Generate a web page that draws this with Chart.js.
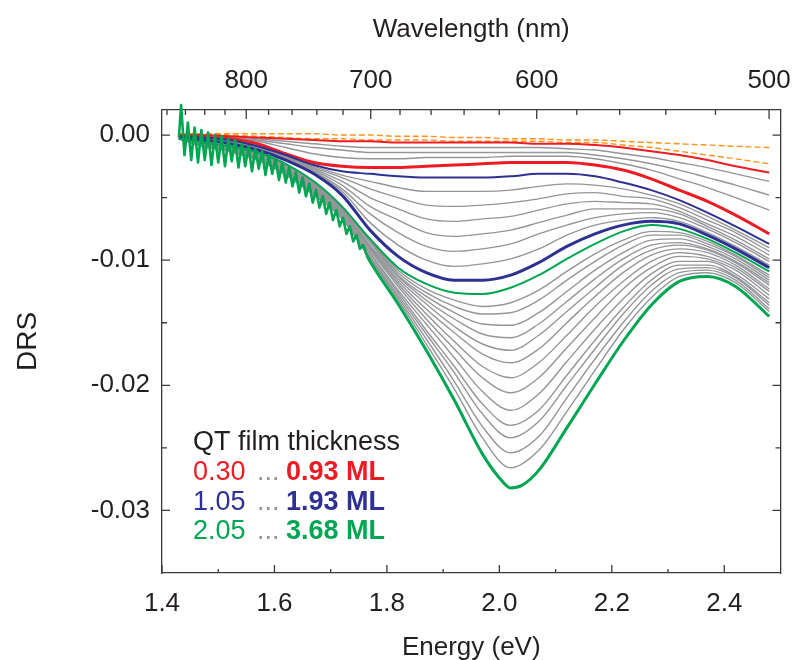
<!DOCTYPE html>
<html>
<head>
<meta charset="utf-8">
<script src="https://cdn.jsdelivr.net/npm/chart.js@4.4.0/dist/chart.umd.min.js"></script>
<style>
  html, body { margin: 0; padding: 0; background: #fff; }
  canvas { display: block; }
</style>
</head>
<body>
<canvas id="chart" width="805" height="660"></canvas>
<script>
// DRS values below are in units of 1e-4
const UNIT = 1e-4
const HC = 1239.84 // eV*nm, for the wavelength axis

// photon energy grid (eV) of the smooth spectra
const energy = [1.43, 1.47, 1.52, 1.57, 1.62, 1.67, 1.72, 1.77, 1.82, 1.87, 1.92, 1.97, 2.02, 2.07, 2.12, 2.17, 2.22, 2.27, 2.32, 2.37, 2.42, 2.48]

// reference spectra (orange, dashed)
const orangeTop = [1, 1, 1, 1, 1, 1, 0, 0, -1, -1, -2, -2, -3, -3, -4, -4, -5, -6, -7, -8, -9, -10]
const orangeLow = [1, 1, 0, -1, -2, -3, -3, -4, -4, -4, -5, -5, -5, -5, -6, -6, -8, -10, -13, -16, -19, -23]

// 0.30 ... 0.93 ML
const redThin = [0, 0, -1, -2, -3, -4, -5, -5, -6, -6, -6, -6, -6, -7, -7, -8, -10, -13, -16, -20, -25, -30]
const redGrays = [
  [0, -1, -1, -3, -5, -7, -9, -10, -10, -10, -10, -10, -10, -10, -11, -12, -15, -18, -22, -26, -31, -37],
  [0, -1, -2, -4, -7, -10, -12, -14, -14, -14, -14, -14, -14, -14, -14, -16, -19, -23, -28, -34, -40, -48],
  [0, -1, -2, -5, -10, -15, -18, -19, -19, -18, -18, -18, -17, -17, -17, -19, -23, -28, -35, -42, -50, -60],
]
const redThick = [-1, -2, -3, -7, -15, -22, -25, -26, -26, -25, -24, -23, -22, -22, -22, -24, -28, -35, -44, -53, -64, -79]

// 1.05 ... 1.93 ML
const blueThin = [-1, -2, -4, -9, -16, -24, -29, -31, -33, -34, -34, -34, -33, -31, -31, -33, -38, -44, -52, -62, -73, -87]
const blueGrays = [
  [-1, -2, -4, -9, -17, -25, -32, -37, -42, -45, -45, -45, -44, -41, -39, -40, -43, -48, -55, -65, -76, -90],
  [-1, -3, -5, -10, -17, -26, -34, -43, -50, -56, -57, -56, -54, -51, -47, -46, -49, -51, -58, -68, -78, -93],
  [-1, -3, -5, -10, -18, -27, -37, -50, -59, -67, -69, -67, -65, -60, -55, -53, -54, -55, -61, -71, -81, -96],
  [-2, -3, -6, -11, -18, -28, -40, -57, -68, -78, -81, -79, -76, -70, -64, -59, -59, -59, -63, -73, -84, -99],
  [-2, -4, -6, -11, -19, -29, -43, -63, -78, -89, -93, -91, -87, -79, -72, -66, -63, -62, -66, -75, -86, -101],
  [-2, -4, -7, -12, -19, -30, -45, -70, -88, -100, -105, -103, -99, -91, -80, -72, -68, -66, -69, -78, -89, -104],
]
const blueThick = [-2, -4, -7, -12, -20, -31, -48, -76, -97, -110, -116, -116, -112, -102, -89, -79, -72, -69, -71, -80, -91, -106]

// 2.05 ... 3.68 ML
const greenThin = [-3, -6, -9, -14, -23, -37, -57, -83, -106, -119, -126, -127, -122, -112, -99, -87, -77, -72, -75, -83, -94, -109]
const greenGrays = [
  [-3, -6, -9, -15, -24, -38, -58, -84, -108, -123, -132, -137, -134, -124, -109, -95, -84, -77, -78, -85, -96, -112],
  [-3, -6, -10, -15, -24, -39, -58, -85, -110, -126, -137, -143, -142, -132, -116, -101, -88, -80, -80, -87, -97, -114],
  [-3, -7, -10, -15, -25, -39, -59, -86, -112, -129, -142, -151, -152, -142, -125, -108, -94, -84, -83, -89, -99, -116],
  [-3, -7, -10, -16, -26, -40, -60, -88, -113, -132, -147, -159, -162, -151, -133, -115, -99, -88, -86, -91, -101, -118],
  [-3, -7, -11, -16, -26, -41, -60, -89, -115, -135, -153, -167, -172, -160, -141, -122, -104, -92, -88, -92, -102, -120],
  [-3, -7, -11, -17, -27, -42, -61, -90, -117, -139, -158, -175, -182, -171, -150, -129, -110, -96, -91, -94, -104, -123],
  [-3, -7, -11, -17, -28, -42, -62, -91, -119, -143, -165, -185, -194, -182, -160, -137, -117, -101, -94, -97, -106, -125],
  [-3, -8, -12, -18, -28, -43, -63, -92, -121, -147, -171, -194, -206, -194, -170, -146, -123, -106, -97, -99, -108, -128],
  [-3, -8, -12, -18, -29, -44, -64, -94, -124, -151, -178, -205, -220, -207, -181, -155, -131, -111, -101, -101, -111, -131],
  [-3, -8, -12, -19, -30, -45, -65, -95, -126, -156, -185, -215, -232, -220, -192, -164, -138, -116, -104, -104, -113, -134],
  [-3, -8, -13, -19, -31, -46, -65, -97, -128, -159, -190, -223, -242, -229, -200, -171, -143, -120, -107, -106, -114, -136],
  [-3, -8, -13, -20, -31, -47, -66, -98, -130, -163, -197, -233, -254, -241, -210, -179, -150, -125, -110, -108, -116, -139],
  [-3, -9, -13, -20, -32, -48, -67, -99, -132, -167, -203, -242, -266, -252, -221, -188, -156, -130, -113, -110, -118, -141],
]
// thickest film: noisy low-energy part, then the smooth part
const greenNoiseEnergy = [1.430, 1.434, 1.440, 1.446, 1.452, 1.458, 1.464, 1.470, 1.476, 1.482, 1.488, 1.494, 1.500, 1.506, 1.512, 1.518, 1.524, 1.530, 1.536, 1.542, 1.548, 1.554, 1.560, 1.566, 1.572, 1.578, 1.584, 1.590, 1.596, 1.602, 1.608, 1.614, 1.620, 1.626, 1.632, 1.638, 1.644, 1.650, 1.656, 1.662, 1.668, 1.674, 1.680, 1.686, 1.692, 1.698, 1.704, 1.710, 1.716, 1.722, 1.728, 1.734, 1.740, 1.746, 1.752, 1.758, 1.764]
const greenNoiseValues = [-2, 24, -16, 10, -20, 6, -22, 4, -20, 2, -24, 0, -22, -1, -25, -3, -21, -4, -26, -7, -25, -9, -29, -11, -27, -13, -32, -16, -31, -19, -36, -22, -38, -26, -41, -30, -46, -34, -49, -39, -54, -44, -58, -49, -63, -54, -68, -60, -73, -66, -79, -73, -85, -80, -91, -88, -96]
const greenThickEnergy = [1.77, 1.82, 1.87, 1.92, 1.97, 2.00, 2.02, 2.04, 2.07, 2.12, 2.17, 2.22, 2.27, 2.32, 2.37, 2.42, 2.48]
const greenThickValues = [-101, -135, -172, -212, -255, -274, -282, -280, -268, -234, -199, -165, -136, -117, -113, -121, -145]

// axis ticks
const energyMajor = [1.4, 1.6, 1.8, 2.0, 2.2, 2.4]
const energyMinor = [1.5, 1.7, 1.9, 2.1, 2.3]
const drsMajor = [0, -0.01, -0.02, -0.03]
const drsMinor = [-0.005, -0.015, -0.025]
const nmMajor = [800, 700, 600, 500]
const nmMinor = [880, 860, 840, 820, 780, 760, 740, 720, 680, 660, 640, 620, 580, 560, 540, 520]

const noteRows = [
  { from: "0.30", to: "0.93 ML", color: "#ed1c24" },
  { from: "1.05", to: "1.93 ML", color: "#2e3192" },
  { from: "2.05", to: "3.68 ML", color: "#00a651" },
]

const FONT = "'Liberation Sans', Arial, Helvetica, sans-serif"
const INK = "#231f20"
const AXIS = "#3a3a3a"
const GRAY = "#939598"
const RED = "#ed1c24", BLUE = "#2e3192", GREEN = "#00a651", ORANGE = "#f7941d"

const toPoints = (xs, vals) => xs.map((x, i) => ({ x, y: vals[i] * UNIT }))

function spectrum(vals, color, width, order, extra) {
  return Object.assign({
    data: toPoints(energy, vals),
    borderColor: color,
    borderWidth: width,
    order: order,
  }, extra || {})
}

const noisyPart = toPoints(greenNoiseEnergy, greenNoiseValues)
const datasets = []
// noisy start drawn with straight segments, so the spikes stay sharp
datasets.push({
  data: noisyPart,
  borderColor: GREEN, borderWidth: 2.6, order: 0, clip: false,
  cubicInterpolationMode: "default", tension: 0,
})
datasets.push({
  data: [noisyPart[noisyPart.length - 1]].concat(toPoints(greenThickEnergy, greenThickValues)),
  borderColor: GREEN, borderWidth: 3, order: 0,
})
datasets.push(spectrum(greenThin, GREEN, 2, 1))
datasets.push(spectrum(blueThick, BLUE, 3, 1))
datasets.push(spectrum(blueThin, BLUE, 2, 1))
datasets.push(spectrum(redThick, RED, 3, 1))
datasets.push(spectrum(redThin, RED, 2, 1))
datasets.push(spectrum(orangeTop, ORANGE, 1.4, 2, { borderDash: [6, 3] }))
datasets.push(spectrum(orangeLow, ORANGE, 1.4, 2, { borderDash: [6, 3] }))
redGrays.concat(blueGrays, greenGrays).forEach(v => datasets.push(spectrum(v, GRAY, 1.4, 3)))

// tick marks pointing into the plot, on all four sides
const innerTicks = {
  id: "innerTicks",
  afterDraw(chart) {
    const { ctx, chartArea: a, scales } = chart
    const x = scales.x, y = scales.y
    ctx.save()
    ctx.strokeStyle = AXIS
    ctx.lineWidth = 1.3
    ctx.beginPath()
    const vTick = (px, len) => {
      ctx.moveTo(px, a.bottom); ctx.lineTo(px, a.bottom - len)
    }
    energyMajor.forEach(v => vTick(x.getPixelForValue(v), 8))
    energyMinor.forEach(v => vTick(x.getPixelForValue(v), 4))
    const topTick = (px, len) => { ctx.moveTo(px, a.top); ctx.lineTo(px, a.top + len) }
    nmMajor.forEach(nm => topTick(x.getPixelForValue(HC / nm), 9))
    nmMinor.forEach(nm => topTick(x.getPixelForValue(HC / nm), 5))
    const hTick = (py, len) => {
      ctx.moveTo(a.left, py); ctx.lineTo(a.left + len, py)
      ctx.moveTo(a.right, py); ctx.lineTo(a.right - len, py)
    }
    drsMajor.forEach(v => hTick(y.getPixelForValue(v), 8))
    drsMinor.forEach(v => hTick(y.getPixelForValue(v), 5))
    ctx.stroke()
    ctx.restore()
  }
}

const thicknessNote = {
  id: "thicknessNote",
  afterDraw(chart) {
    const { ctx, scales: { x, y } } = chart
    const left = x.getPixelForValue(1.455)
    const top = y.getPixelForValue(-0.0246)
    ctx.save()
    ctx.textBaseline = "middle"
    ctx.font = "27px " + FONT
    ctx.fillStyle = INK
    ctx.fillText("QT film thickness", left, top)
    noteRows.forEach((row, i) => {
      const yy = top + (i + 1) * 29.7
      ctx.font = "27px " + FONT
      ctx.fillStyle = row.color
      ctx.fillText(row.from, left, yy)
      ctx.fillStyle = GRAY
      ctx.fillText("...", left + 64, yy)
      ctx.font = "bold 27px " + FONT
      ctx.fillStyle = row.color
      ctx.fillText(row.to, left + 93, yy)
    })
    ctx.restore()
  }
}

const border = { display: true, color: AXIS, width: 1.3 }
const noGrid = { display: false, drawTicks: false }
const tickFont = { family: FONT, size: 26 }

new Chart(document.getElementById("chart"), {
  type: "line",
  data: { datasets },
  options: {
    responsive: false,
    animation: false,
    devicePixelRatio: 1,
    layout: { padding: 0 },
    elements: {
      point: { radius: 0 },
      line: { cubicInterpolationMode: "monotone", fill: false, borderJoinStyle: "round" },
    },
    plugins: { legend: { display: false }, tooltip: { enabled: false } },
    scales: {
      x: {
        type: "linear", position: "bottom", min: 1.4, max: 2.5,
        grid: noGrid, border,
        afterBuildTicks: s => { s.ticks = energyMajor.map(v => ({ value: v })) },
        afterFit: s => { s.height = 87 },
        ticks: { font: tickFont, color: INK, padding: 15, maxRotation: 0, autoSkip: false, callback: v => v.toFixed(1) },
        title: { display: true, text: "Energy (eV)", font: { family: FONT, size: 26 }, color: INK, padding: { top: 0, bottom: -3 } },
      },
      x2: {
        type: "linear", position: "top", min: 1.4, max: 2.5,
        grid: noGrid, border,
        afterBuildTicks: s => { s.ticks = nmMajor.map(nm => ({ value: HC / nm })) },
        afterFit: s => { s.height = 110 },
        ticks: { font: tickFont, color: INK, padding: 14, maxRotation: 0, autoSkip: false, callback: v => String(Math.round(HC / v)) },
        title: { display: true, text: "Wavelength (nm)", font: { family: FONT, size: 26 }, color: INK, padding: { top: 14, bottom: 0 } },
      },
      y: {
        type: "linear", position: "left", min: -0.035, max: 0.002,
        grid: noGrid, border,
        afterBuildTicks: s => { s.ticks = drsMajor.map(v => ({ value: v })) },
        afterFit: s => { s.width = 162 },
        ticks: { font: tickFont, color: INK, padding: 12, autoSkip: false, callback: v => v.toFixed(2) },
        title: { display: true, text: "DRS", font: { family: FONT, size: 28 }, color: INK, padding: { top: 11, bottom: 0 } },
      },
      y2: {
        type: "linear", position: "right", min: -0.035, max: 0.002,
        grid: noGrid, border,
        ticks: { display: false },
        afterFit: s => { s.width = 12 },
      },
    },
  },
  plugins: [innerTicks, thicknessNote],
})
</script>
</body>
</html>
